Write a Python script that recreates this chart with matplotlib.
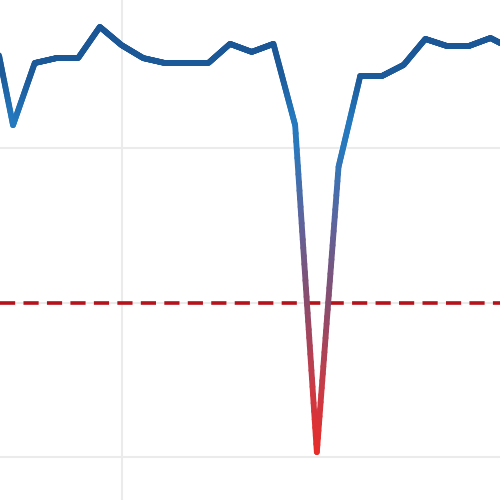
import numpy as np
import matplotlib
matplotlib.use("Agg")
import matplotlib.pyplot as plt
from matplotlib.collections import LineCollection
from matplotlib.colors import LinearSegmentedColormap

# values (index = period)
periods = list(range(25))
values = [142.4, 107.4, 127.5, 129.1, 129.1, 139.2, 133.3, 129.1, 127.5, 127.5,
          127.5, 133.7, 131.1, 133.7, 107.4, 1.6, 93.9, 123.3, 123.3, 126.9,
          135.3, 133.0, 133.0, 135.6, 132.0]
threshold = 50

cmap = LinearSegmentedColormap.from_list(
    "rb",
    [(0.0, "#ea2a26"), (0.15, "#cc3a44"), (0.35, "#8a4c6c"),
     (0.55, "#5a66a0"), (0.7, "#2a78bc"), (0.77, "#2479bf"),
     (0.87, "#1c5a9a"), (1.0, "#1a5494")])

fig = plt.figure(figsize=(5, 5), dpi=100)
ax = fig.add_axes([0, 0, 1, 1])

# split each segment into pieces so the colour can follow the value
xs, ys = [], []
for i in range(len(periods) - 1):
    t = np.linspace(0, 1, 40, endpoint=False)
    xs.append(periods[i] + t * (periods[i + 1] - periods[i]))
    ys.append(values[i] + t * (values[i + 1] - values[i]))
xs.append([periods[-1]])
ys.append([values[-1]])
xs = np.concatenate(xs)
ys = np.concatenate(ys)
pts = np.array([xs, ys]).T.reshape(-1, 1, 2)
segs = np.concatenate([pts[:-1], pts[1:]], axis=1)
lc = LineCollection(segs, cmap=cmap, norm=plt.Normalize(0, 142),
                    linewidth=4.2, capstyle="round", joinstyle="round", zorder=3)
lc.set_array((ys[:-1] + ys[1:]) / 2)
ax.add_collection(lc)

ax.axhline(threshold, color="#b5121b", lw=2.6, ls=(0, (4.2, 2.3)), zorder=2)

ax.set_xlim(0.4, 23.44)
ax.set_ylim(-13.9, 147.9)
ax.set_xticks([6])
ax.set_yticks([0, 50, 100])
ax.grid(True, color="#ebebeb", lw=1.5, zorder=0)
ax.tick_params(length=0, labelbottom=False, labelleft=False)
for s in ax.spines.values():
    s.set_visible(False)

fig.savefig("out.png", dpi=100)
